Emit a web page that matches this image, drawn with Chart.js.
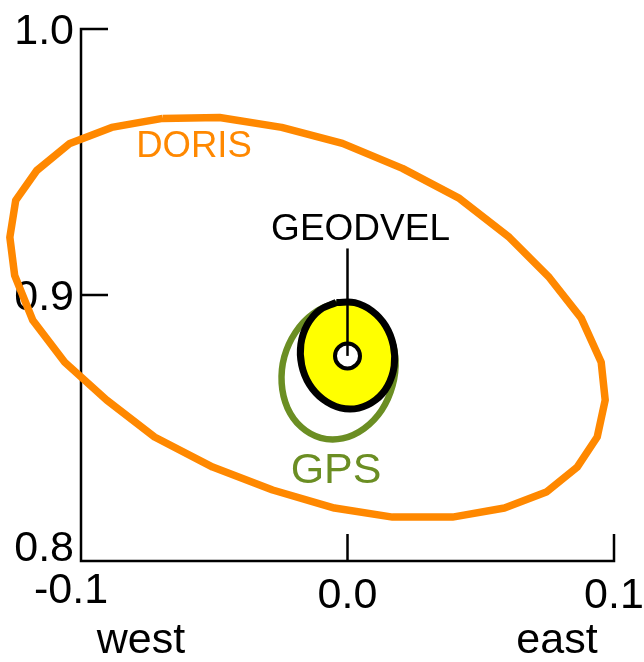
<!DOCTYPE html>
<html>
<head>
<meta charset="utf-8">
<script src="https://cdn.jsdelivr.net/npm/chart.js@4.4.0/dist/chart.umd.min.js"></script>
<style>
  html, body { margin: 0; padding: 0; background: #fff; }
  canvas { display: block; }
</style>
</head>
<body>
<canvas id="myChart" width="644" height="662"></canvas>
<script>
/* velocity error ellipses */

const xTicks = [-0.1, 0.0, 0.1];
const xTickLabels = ["-0.1", "0.0", "0.1"];
const yTicks = [0.8, 0.9, 1.0];
const yTickLabels = ["0.8", "0.9", "1.0"];
const sideLabels = ["west", "east"];

// DORIS ellipse (polygon as drawn)
const dorisX = [-0.0694, -0.0480, -0.0247, -0.0019, 0.0206, 0.0420, 0.0607, 0.0757, 0.0877, 0.0952,
  0.0967, 0.0937, 0.0862, 0.0746, 0.0589, 0.0394, 0.0169, -0.0049, -0.0281, -0.0506,
  -0.0724, -0.0904, -0.1061, -0.1181, -0.1249, -0.1267, -0.1245, -0.1166, -0.1042, -0.0885];
const dorisY = [0.9664, 0.9667, 0.9630, 0.9570, 0.9476, 0.9363, 0.9217, 0.9066, 0.8913, 0.8747,
  0.8605, 0.8466, 0.8353, 0.8259, 0.8199, 0.8165, 0.8165, 0.8199, 0.8267, 0.8353,
  0.8466, 0.8605, 0.8747, 0.8905, 0.9074, 0.9217, 0.9356, 0.9468, 0.9570, 0.9630];

// GPS ellipse
const gpsX = [0.0033, 0.0106, 0.0157, 0.0180, 0.0169, 0.0128, 0.0062, -0.0018,
  -0.0101, -0.0173, -0.0225, -0.0247, -0.0237, -0.0195, -0.0130, -0.0049];
const gpsY = [0.8964, 0.8924, 0.8852, 0.8759, 0.8659, 0.8567, 0.8498, 0.8461,
  0.8463, 0.8503, 0.8575, 0.8668, 0.8768, 0.8860, 0.8929, 0.8966];

// GEODVEL ellipse
const geodvelX = [-0.0042, 0.0027, 0.0092, 0.0143, 0.0172, 0.0175, 0.0151, 0.0105,
  0.0042, -0.0027, -0.0092, -0.0143, -0.0172, -0.0175, -0.0151, -0.0105];
const geodvelY = [0.8972, 0.8971, 0.8940, 0.8884, 0.8810, 0.8732, 0.8659, 0.8605,
  0.8575, 0.8576, 0.8608, 0.8664, 0.8737, 0.8815, 0.8888, 0.8943];

// GEODVEL solution and its label leader
const centerX = [0.0];
const centerY = [0.8771];
const leaderX = [0.0, 0.0];
const leaderY = [0.8771, 0.9175];

// text labels: name, x, y (baseline)
const names = ["DORIS", "GEODVEL", "GPS"];
const nameX = [-0.0576, 0.0049, -0.0043];
const nameY = [0.9517, 0.9205, 0.8293];

const ORANGE = "#ff8800";
const GREEN = "#6b8e23";
const FONT = '"Liberation Sans", Arial, sans-serif';

function points(xs, ys, close) {
  let pts = xs.map(function (v, i) { return { x: v, y: ys[i] }; });
  if (close) pts.push({ x: xs[0], y: ys[0] });
  return pts;
}

const axesPlugin = {
  id: "axes",
  beforeDatasetsDraw(chart) {
    const ctx = chart.ctx;
    const x = chart.scales.x, y = chart.scales.y;
    const x0 = x.getPixelForValue(xTicks[0]);
    const x1 = x.getPixelForValue(xTicks[xTicks.length - 1]);
    const y0 = y.getPixelForValue(yTicks[0]);
    const y1 = y.getPixelForValue(yTicks[yTicks.length - 1]);
    const tick = 27;

    ctx.save();
    ctx.strokeStyle = "#000";
    ctx.lineWidth = 2.5;
    ctx.lineJoin = "miter";
    ctx.beginPath();
    ctx.moveTo(x0 + tick, y1);
    ctx.lineTo(x0, y1);
    ctx.lineTo(x0, y0);
    ctx.lineTo(x1, y0);
    ctx.lineTo(x1, y0 - tick);
    yTicks.slice(1, -1).forEach(function (v) {
      const py = y.getPixelForValue(v);
      ctx.moveTo(x0, py);
      ctx.lineTo(x0 + tick, py);
    });
    xTicks.slice(1, -1).forEach(function (v) {
      const px = x.getPixelForValue(v);
      ctx.moveTo(px, y0);
      ctx.lineTo(px, y0 - tick);
    });
    ctx.stroke();

    ctx.fillStyle = "#000";
    ctx.font = "43px " + FONT;
    ctx.textBaseline = "alphabetic";
    ctx.textAlign = "right";
    yTicks.forEach(function (v, i) {
      const py = y.getPixelForValue(v);
      ctx.fillText(yTickLabels[i], x0 - 7, i === 0 ? py : py + 15);
    });
    ctx.textAlign = "center";
    xTicks.forEach(function (v, i) {
      const px = x.getPixelForValue(v);
      if (i === 0) ctx.fillText(xTickLabels[i], px - 10, y0 + 42);
      else ctx.fillText(xTickLabels[i], px, y0 + 47);
    });
    ctx.fillText(sideLabels[0], x0 + 60, y0 + 92);
    ctx.fillText(sideLabels[1], x1 - 57, y0 + 92);
    ctx.restore();
  },
  afterDatasetsDraw(chart) {
    const ctx = chart.ctx;
    const x = chart.scales.x, y = chart.scales.y;
    const colors = [ORANGE, "#000", GREEN];
    const sizes = [36.5, 37, 43];
    ctx.save();
    ctx.textAlign = "center";
    ctx.textBaseline = "alphabetic";
    names.forEach(function (n, i) {
      ctx.fillStyle = colors[i];
      ctx.font = sizes[i] + "px " + FONT;
      ctx.fillText(n, x.getPixelForValue(nameX[i]), y.getPixelForValue(nameY[i]));
    });
    ctx.restore();
  }
};

new Chart("myChart", {
  type: "scatter",
  data: {
    datasets: [
      {
        label: "leader",
        data: points(leaderX, leaderY, false),
        showLine: true,
        borderColor: "#000",
        borderWidth: 2.5,
        pointRadius: 0,
        clip: false,
        order: 0,
      },
      {
        label: "center",
        data: points(centerX, centerY, false),
        pointRadius: 12.5,
        pointBackgroundColor: "#fff",
        pointBorderColor: "#000",
        pointBorderWidth: 4,
        clip: false,
        order: 1,
      },
      {
        label: "GEODVEL",
        data: points(geodvelX, geodvelY, true),
        showLine: true,
        tension: 0.4,
        borderColor: "#000",
        borderWidth: 7,
        backgroundColor: "#ffff00",
        fill: "shape",
        pointRadius: 0,
        clip: false,
        order: 2,
      },
      {
        label: "GPS",
        data: points(gpsX, gpsY, true),
        showLine: true,
        tension: 0.4,
        borderColor: GREEN,
        borderWidth: 6.5,
        pointRadius: 0,
        clip: false,
        order: 3,
      },
      {
        label: "DORIS",
        data: points(dorisX, dorisY, true),
        showLine: true,
        tension: 0,
        borderColor: ORANGE,
        borderWidth: 7.5,
        borderJoinStyle: "round",
        pointRadius: 0,
        clip: false,
        order: 4,
      },
    ],
  },
  options: {
    responsive: false,
    animation: false,
    layout: { padding: { left: 81, right: 30, top: 29, bottom: 101 } },
    plugins: { legend: { display: false }, tooltip: { enabled: false } },
    scales: {
      x: { type: "linear", display: false, min: -0.1, max: 0.1 },
      y: { type: "linear", display: false, min: 0.8, max: 1.0 },
    },
  },
  plugins: [axesPlugin],
});
</script>
</body>
</html>
